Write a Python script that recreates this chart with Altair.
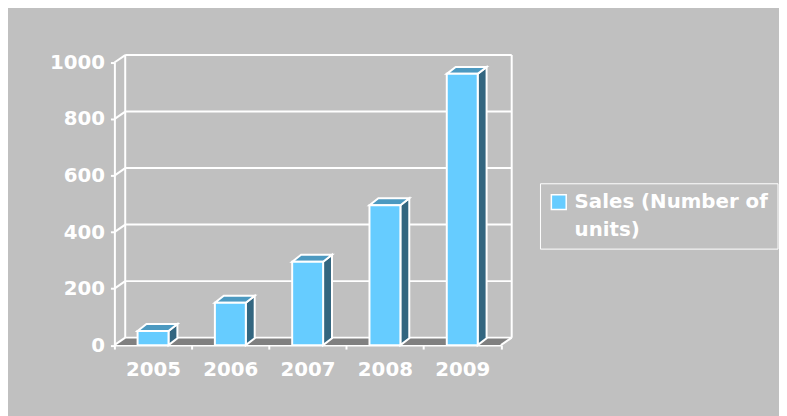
import altair as alt
import pandas as pd

# ---- data ----
years = ["2005", "2006", "2007", "2008", "2009"]
sales = [50, 150, 295, 495, 960]
series_name = "Sales (Number of units)"
legend_lines = ["Sales (Number of", "units)"]
y_ticks = [0, 200, 400, 600, 800, 1000]

# ---- styles ----
BG = "#C0C0C0"
FRONT = "#66CCFF"
TOP = "#4C99C0"
SIDE = "#336680"
FLOOR = "#808080"
EDGE = "white"
FONT = "DejaVu Sans"

n = len(years)
ymax = y_ticks[-1]
HALF = 0.2               # half width of a bar's front face (band units)
BDX, BDY = 0.115, 24.5   # bar depth (band units, value units)
WDX, WDY = 0.14, 26.5    # wall depth

bars = pd.DataFrame({"year": years, "sales": sales, "series": series_name})
bars["i"] = range(n)
bars["x0"] = bars["i"] + 0.5 - HALF
bars["x1"] = bars["i"] + 0.5 + HALF
bars["base"] = 0

top_rows, side_rows = [], []
for _, r in bars.iterrows():
    v = r["sales"]
    top_rows += [
        {"year": r["year"], "x": r["x0"], "lo": v, "hi": v},
        {"year": r["year"], "x": r["x0"] + BDX, "lo": v, "hi": v + BDY},
        {"year": r["year"], "x": r["x1"], "lo": v, "hi": v + BDY},
        {"year": r["year"], "x": r["x1"] + BDX, "lo": v + BDY, "hi": v + BDY},
    ]
    side_rows += [
        {"year": r["year"], "x": r["x1"], "lo": 0, "hi": v},
        {"year": r["year"], "x": r["x1"] + BDX, "lo": BDY, "hi": v + BDY},
    ]
top_df = pd.DataFrame(top_rows)
side_df = pd.DataFrame(side_rows)

floor_df = pd.DataFrame({
    "x": [0, WDX, n, n + WDX],
    "lo": [0, 0, 0, WDY],
    "hi": [0, WDY, WDY, WDY],
})

tick_df = pd.DataFrame({"t": y_ticks})
tick_df["ty"] = tick_df["t"] + WDY
tick_df["xf"] = 0.0
tick_df["xb"] = WDX
tick_df["xe"] = n + WDX

walls_df = pd.DataFrame({"xw": [WDX, n + WDX], "y0": [WDY, WDY], "y1": [ymax + WDY, ymax + WDY]})
rconn_df = pd.DataFrame({"x": [n], "x2": [n + WDX], "y": [0], "y2": [WDY]})

xs = alt.Scale(domain=[0, n], nice=False, zero=False)
ys = alt.Scale(domain=[0, ymax], nice=False, zero=False)

year_expr = "[" + ",".join("'%s'" % y for y in years) + "][datum.value] || ''"
legend_expr = "[" + ",".join("'%s'" % s for s in legend_lines) + "]"

XAX = alt.Axis(
    values=list(range(n + 1)), labelExpr=year_expr, labelOffset=39,
    tickSize=4, tickWidth=2, tickColor=EDGE, domainColor=EDGE, domainWidth=2,
    labelColor=EDGE, labelFont=FONT, labelFontSize=20, labelFontWeight="bold",
    labelPadding=11, labelFlush=False, labelOverlap=False, grid=False, title=None)
YAX = alt.Axis(
    values=y_ticks, format="d", tickSize=4, tickWidth=2, tickColor=EDGE, domainColor=EDGE,
    domainWidth=2, labelColor=EDGE, labelFont=FONT, labelFontSize=20,
    labelFontWeight="bold", labelPadding=6, grid=False, title=None)


def X(f):
    return alt.X(f, scale=xs, axis=XAX)


def Y(f):
    return alt.Y(f, scale=ys, axis=YAX)


floor = alt.Chart(floor_df).mark_area(orient="vertical", color=FLOOR).encode(
    x=X("x:Q"), y=Y("lo:Q"), y2="hi:Q",
)

grid = alt.Chart(tick_df).mark_rule(color=EDGE, strokeWidth=2).encode(
    x=X("xb:Q"), x2="xe:Q", y=Y("ty:Q"),
)

conn = alt.Chart(tick_df).mark_rule(color=EDGE, strokeWidth=2).encode(
    x=X("xf:Q"), x2="xb:Q", y=Y("t:Q"), y2="ty:Q",
)

walls = alt.Chart(walls_df).mark_rule(color=EDGE, strokeWidth=2).encode(
    x=X("xw:Q"), y=Y("y0:Q"), y2="y1:Q",
)

rconn = alt.Chart(rconn_df).mark_rule(color=EDGE, strokeWidth=2).encode(
    x=X("x:Q"), x2="x2:Q", y=Y("y:Q"), y2="y2:Q",
)

side = alt.Chart(side_df).mark_area(orient="vertical", color=SIDE, stroke=EDGE, strokeWidth=2).encode(
    x=X("x:Q"), y=Y("lo:Q"), y2="hi:Q", detail="year:N",
)

top = alt.Chart(top_df).mark_area(orient="vertical", color=TOP, stroke=EDGE, strokeWidth=2).encode(
    x=X("x:Q"), y=Y("lo:Q"), y2="hi:Q", detail="year:N",
)

front = alt.Chart(bars).mark_rect(stroke=EDGE, strokeWidth=2).encode(
    x=X("x0:Q"),
    x2="x1:Q",
    y=Y("base:Q"),
    y2="sales:Q",
    fill=alt.Fill("series:N", scale=alt.Scale(range=[FRONT]), legend=alt.Legend(
        title=None, orient="none", legendX=430, legendY=122,
        symbolType="square", symbolSize=225, symbolStrokeColor=EDGE, symbolStrokeWidth=1.5,
        symbolFillColor=FRONT,
        labelExpr=legend_expr, labelColor=EDGE, labelFont=FONT, labelFontSize=20,
        labelFontWeight="bold", labelOffset=6, labelLimit=400,
        strokeColor=EDGE, padding=9)),
)

chart = alt.layer(floor, grid, conn, walls, rconn, side, top, front).properties(
    width=390.5, height=285.5,
    padding={"left": 107.5, "top": 53, "right": 281, "bottom": 69.5},
    autosize=alt.AutoSizeParams(type="none"),
    background=BG,
).configure(
    style={"guide-label": {"lineHeight": 28}}
).configure_view(stroke=None, strokeWidth=0)

chart.save("out.html", embed_options={"renderer": "svg", "actions": False})
